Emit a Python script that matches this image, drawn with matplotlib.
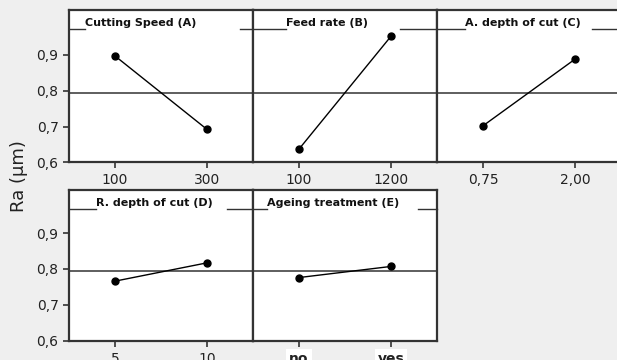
import matplotlib
matplotlib.use("Agg")
import matplotlib.pyplot as plt

# main effects means for Ra
factors = ["Cutting Speed (A)", "Feed rate (B)", "A. depth of cut (C)",
           "R. depth of cut (D)", "Ageing treatment (E)"]
levels = [["100", "300"], ["100", "1200"], ["0,75", "2,00"],
          ["5", "10"], ["no", "yes"]]
means = [[0.897, 0.692], [0.637, 0.952], [0.702, 0.888],
         [0.766, 0.817], [0.776, 0.807]]
grand_mean = 0.793
yticks = [0.6, 0.7, 0.8, 0.9]
ytick_labels = ["0,6", "0,7", "0,8", "0,9"]

BG = "#efefef"
EDGE = "#333333"

fig = plt.figure(figsize=(6.17, 3.6), dpi=100, facecolor=BG)

W = 184 / 617
pos = [
    (69 / 617, 0.549, W, 0.423),
    (253 / 617, 0.549, W, 0.423),
    (437 / 617, 0.549, W, 0.423),
    (69 / 617, 0.0536, W, 0.4186),
    (253 / 617, 0.0536, W, 0.4186),
]
# header decoration: (line start, line end, text start, extra line after text)
headers = [
    (0.0, 0.087, 0.087, None),
    (-0.07, 0.18, 0.18, None),
    (-0.2, 0.152, 0.152, (0.84, 1.2)),
    (0.0, 0.147, 0.147, None),
    (-0.14, 0.076, 0.076, (0.897, 1.0)),
]
ylims = [1.025, 1.025, 1.025, 1.02, 1.02]

for i in range(5):
    ax = fig.add_axes(pos[i])
    ax.set_facecolor("white")
    ax.axhline(grand_mean, color=EDGE, lw=1.1, zorder=1)
    ax.plot([0, 1], means[i], color="black", lw=1.0, marker="o",
            ms=5, zorder=3)
    ax.set_xlim(-0.5, 1.5)
    ax.set_ylim(0.6, ylims[i])
    ax.set_xticks([0, 1])
    ax.set_xticklabels(levels[i], fontsize=10, color="#222222",
                       fontweight="bold" if i == 4 else "normal")
    if i == 4:
        for lab in ax.get_xticklabels():
            lab.set_bbox(dict(facecolor="white", edgecolor="none", pad=2))
    ax.set_yticks(yticks)
    if i in (0, 3):
        ax.set_yticklabels(ytick_labels, fontsize=10, color="#222222")
        ax.tick_params(axis="y", length=4, width=1.2, color=EDGE)
    else:
        ax.tick_params(axis="y", length=0, labelleft=False)
    ax.tick_params(axis="x", length=4, width=1.2, color=EDGE, pad=4)
    for s in ax.spines.values():
        s.set_color(EDGE)
        s.set_linewidth(1.6)

    l0, l1, t0, extra = headers[i]
    hy = 0.875
    ax.plot([l0, l1], [hy, hy], transform=ax.transAxes, color=EDGE,
            lw=1.0, clip_on=False, zorder=5)
    if extra is not None:
        ax.plot(list(extra), [hy, hy], transform=ax.transAxes, color=EDGE,
                lw=1.0, clip_on=False, zorder=5)
    ax.text(t0, hy + 0.005, factors[i], transform=ax.transAxes,
            fontsize=8, fontweight="bold", ha="left", va="bottom",
            color="#111111")

fig.text(0.03, 0.51, "Ra (\u00b5m)", rotation=90, fontsize=13,
         ha="center", va="center", color="#222222")

fig.savefig("out.png", dpi=100, facecolor=BG)
